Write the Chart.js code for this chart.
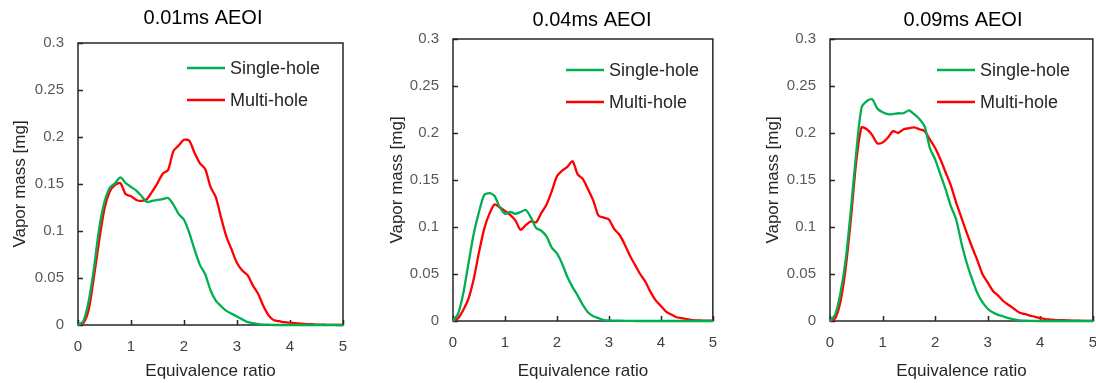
<!DOCTYPE html>
<html>
<head>
<meta charset="utf-8">
<script src="https://cdn.jsdelivr.net/npm/chart.js@4.4.1/dist/chart.umd.min.js"></script>
<style>
  html, body { margin: 0; padding: 0; background: #fff; overflow: hidden; }
  body { width: 1096px; height: 383px; position: relative; }
  .panel { position: absolute; top: 0; height: 383px; }
</style>
</head>
<body>
<div class="panel" style="left:0;width:365px"><canvas id="c1"></canvas></div>
<div class="panel" style="left:365px;width:365px"><canvas id="c2"></canvas></div>
<div class="panel" style="left:730px;width:380px"><canvas id="c3"></canvas></div>
<script>
// equivalence ratio, step 0.1 from 0 to 5
const ratio = [0,0.1,0.2,0.3,0.4,0.5,0.6,0.7,0.8,0.9,1,1.1,1.2,1.3,1.4,1.5,1.6,1.7,1.8,1.9,2,2.1,2.2,2.3,2.4,2.5,2.6,2.7,2.8,2.9,3,3.1,3.2,3.3,3.4,3.5,3.6,3.7,3.8,3.9,4,4.1,4.2,4.3,4.4,4.5,4.6,4.7,4.8,4.9,5];

const titles = ["0.01ms AEOI", "0.04ms AEOI", "0.09ms AEOI"];
const seriesNames = ["Single-hole", "Multi-hole"];
const yTickLabels = ["0", "0.05", "0.1", "0.15", "0.2", "0.25", "0.3"];
const xTickLabels = ["0", "1", "2", "3", "4", "5"];

// 0.01ms AEOI
const single01 = [0,0.004,0.025,0.06,0.103,0.131,0.146,0.151,0.157,0.151,0.147,0.143,0.137,0.131,0.132,0.133,0.134,0.135,0.128,0.118,0.112,0.098,0.08,0.064,0.054,0.037,0.026,0.02,0.015,0.012,0.009,0.006,0.003,0.002,0.001,0.0005,0.0003,0,0,0,0,0,0,0,0,0,0,0,0,0,0];
const multi01 = [0,0.002,0.016,0.051,0.09,0.124,0.142,0.149,0.151,0.139,0.137,0.133,0.132,0.134,0.142,0.151,0.161,0.165,0.185,0.191,0.197,0.196,0.183,0.172,0.166,0.147,0.136,0.114,0.094,0.08,0.066,0.058,0.053,0.042,0.033,0.02,0.01,0.005,0.004,0.003,0.0025,0.002,0.0015,0.001,0.0008,0.0005,0.0003,0.0002,0.0001,0,0];

// 0.04ms AEOI
const single04 = [0,0.008,0.03,0.062,0.093,0.116,0.134,0.136,0.133,0.121,0.114,0.116,0.114,0.116,0.118,0.11,0.099,0.096,0.09,0.078,0.072,0.061,0.047,0.036,0.027,0.017,0.009,0.005,0.003,0.001,0.0007,0.0004,0.0003,0.0002,0.0001,0,0,0,0,0,0,0,0,0,0,0,0,0,0,0,0];
const multi04 = [0,0.003,0.012,0.024,0.045,0.073,0.098,0.114,0.124,0.121,0.117,0.113,0.107,0.097,0.102,0.106,0.105,0.115,0.124,0.138,0.154,0.16,0.164,0.17,0.156,0.151,0.14,0.128,0.112,0.11,0.108,0.098,0.092,0.082,0.07,0.06,0.05,0.042,0.031,0.022,0.016,0.01,0.007,0.004,0.003,0.002,0.001,0.0007,0.0005,0.0003,0.0003];

// 0.09ms AEOI
const single09 = [0,0.007,0.03,0.066,0.12,0.18,0.227,0.234,0.236,0.226,0.222,0.22,0.22,0.221,0.221,0.224,0.22,0.215,0.207,0.184,0.172,0.156,0.14,0.122,0.108,0.083,0.062,0.045,0.03,0.02,0.013,0.009,0.0065,0.0048,0.003,0.0016,0.0007,0.0004,0.0002,0,0,0,0,0,0,0,0,0,0,0,0];
const multi09 = [0,0.003,0.021,0.057,0.11,0.17,0.206,0.204,0.198,0.189,0.19,0.195,0.202,0.2,0.204,0.205,0.206,0.204,0.202,0.193,0.184,0.172,0.158,0.144,0.126,0.11,0.094,0.079,0.065,0.05,0.041,0.032,0.027,0.021,0.017,0.013,0.009,0.0075,0.0058,0.0045,0.003,0.002,0.0015,0.001,0.001,0.0007,0.0005,0.0003,0.0002,0.0001,0];

const GREEN = "#00b050";
const RED = "#ff0000";
const FONT = "'Liberation Sans', Arial, sans-serif";

function pts(ys) {
    return ratio.map((x, i) => ({ x: x, y: ys[i] }));
}

// frame, inside ticks, title and legend drawn on the canvas
const decor = {
    id: "decor",
    beforeDatasetsDraw(chart) {
        const ctx = chart.ctx;
        const a = chart.chartArea;
        const xs = chart.scales.x, ys = chart.scales.y;
        ctx.save();
        ctx.strokeStyle = "#262626";
        ctx.lineWidth = 1.5;
        ctx.beginPath();
        xs.ticks.forEach(t => {
            const px = Math.round(xs.getPixelForValue(t.value)) + 0.5;
            ctx.moveTo(px, a.bottom);
            ctx.lineTo(px, a.bottom - 5);
        });
        ys.ticks.forEach(t => {
            const py = Math.round(ys.getPixelForValue(t.value)) + 0.5;
            ctx.moveTo(a.left, py);
            ctx.lineTo(a.left + 5, py);
        });
        ctx.stroke();
        ctx.strokeRect(a.left, a.top, a.right - a.left, a.bottom - a.top);
        ctx.restore();
    },
    afterDraw(chart, args, opts) {
        const ctx = chart.ctx;
        const a = chart.chartArea;
        ctx.save();
        ctx.fillStyle = "#000";
        ctx.font = "20px " + FONT;
        ctx.textAlign = "center";
        ctx.textBaseline = "middle";
        ctx.fillText(opts.title, opts.titleX, opts.titleY);

        ctx.font = "18px " + FONT;
        ctx.textAlign = "left";
        chart.data.datasets.forEach((ds, i) => {
            const y = opts.legendY + i * 32;
            const x0 = a.left + opts.legendX;
            ctx.strokeStyle = ds.borderColor;
            ctx.lineWidth = 2.5;
            ctx.beginPath();
            ctx.moveTo(x0, y);
            ctx.lineTo(x0 + 38, y);
            ctx.stroke();
            ctx.fillStyle = "#262626";
            ctx.fillText(ds.label, x0 + 43, y + 1);
        });
        ctx.restore();
    }
};

function makeChart(id, single, multi, cfg) {
    return new Chart(document.getElementById(id), {
        type: "line",
        data: {
            datasets: [
                { label: seriesNames[0], data: pts(single), borderColor: GREEN, borderWidth: 2.3, pointRadius: 0, tension: 0.25, clip: 4 },
                { label: seriesNames[1], data: pts(multi), borderColor: RED, borderWidth: 2.3, pointRadius: 0, tension: 0.25, clip: 4 }
            ]
        },
        options: {
            responsive: true,
            maintainAspectRatio: false,
            animation: false,
            events: [],
            layout: { padding: { left: 0, right: cfg.padRight, top: cfg.top, bottom: 0 } },
            plugins: {
                legend: { display: false },
                tooltip: { enabled: false },
                decor: cfg.decor
            },
            scales: {
                x: {
                    type: "linear",
                    min: 0, max: 5,
                    grid: { display: false, drawTicks: false },
                    border: { display: false },
                    ticks: {
                        stepSize: 1,
                        padding: 13,
                        color: "#404040",
                        font: { family: FONT, size: 15 },
                        callback: (v) => xTickLabels[Math.round(v)]
                    },
                    title: {
                        display: true,
                        text: "Equivalence ratio",
                        color: "#262626",
                        font: { family: FONT, size: 17 },
                        padding: { top: 0, bottom: 1 }
                    },
                    afterFit: (s) => { s.height = 383 - cfg.bottom; }
                },
                y: {
                    min: 0, max: 0.3,
                    grid: { display: false, drawTicks: false },
                    border: { display: false },
                    ticks: {
                        stepSize: 0.05,
                        padding: 14,
                        color: "#595959",
                        font: { family: FONT, size: 15 },
                        callback: (v) => yTickLabels[Math.round(v / 0.05)]
                    },
                    title: {
                        display: true,
                        text: "Vapor mass [mg]",
                        color: "#262626",
                        font: { family: FONT, size: 17 },
                        padding: { top: cfg.yTitlePad, bottom: 0 }
                    },
                    afterFit: (s) => { s.width = cfg.left; }
                }
            }
        },
        plugins: [decor]
    });
}

makeChart("c1", single01, multi01, {
    left: 78, padRight: 22, top: 43, bottom: 325, yTitlePad: 10,
    decor: { title: titles[0], titleX: 203, titleY: 18, legendX: 109, legendY: 68 }
});
makeChart("c2", single04, multi04, {
    left: 88, padRight: 11, top: 39, bottom: 321, yTitlePad: 22,
    decor: { title: titles[1], titleX: 227, titleY: 20, legendX: 113, legendY: 70 }
});
makeChart("c3", single09, multi09, {
    left: 100, padRight: 16, top: 39, bottom: 321, yTitlePad: 33,
    decor: { title: titles[2], titleX: 233, titleY: 20, legendX: 107, legendY: 70 }
});
</script>
</body>
</html>
